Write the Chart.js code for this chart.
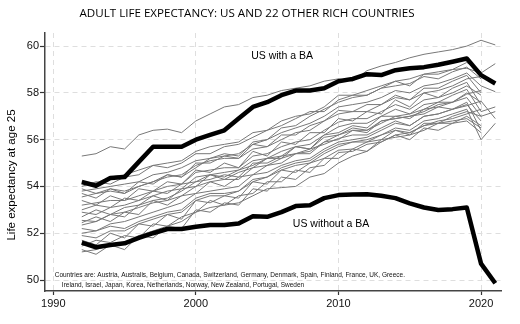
<!DOCTYPE html>
<html>
<head>
<meta charset="utf-8">
<script src="https://cdn.jsdelivr.net/npm/chart.js@4.4.1/dist/chart.umd.min.js"></script>
<style>
	body { margin: 0; background: #fff; }
</style>
</head>
<body>
<canvas id="canvas_le" width="520" height="324"></canvas>
<script>
		var chartTitle = 'ADULT LIFE EXPECTANCY: US AND 22 OTHER RICH COUNTRIES';
		var yAxisTitle = 'Life expectancy at age 25';
		var noteLines = [
			'Countries are: Austria, Australis, Belgium, Canada, Switzerland, Germany, Denmark, Spain, Finland, France, UK, Greece.',
			'Ireland, Israel, Japan, Korea, Netherlands, Norway, New Zealand, Portugal, Sweden'
		];
		var xTicks = [1990, 2000, 2010, 2020];
		var yTicks = [50, 52, 54, 56, 58, 60];

		var years = [1992,1993,1994,1995,1996,1997,1998,1999,2000,2001,2002,2003,2004,2005,2006,
					 2007,2008,2009,2010,2011,2012,2013,2014,2015,2016,2017,2018,2019,2020,2021];

		var usWithBA = [54.19,54.03,54.36,54.4,55.05,55.7,55.7,55.7,56.0,56.2,56.4,56.9,57.4,57.6,57.9,
						58.1,58.1,58.2,58.5,58.6,58.8,58.76,58.97,59.05,59.1,59.2,59.33,59.47,58.76,58.4];
		var usWithoutBA = [51.6,51.4,51.5,51.57,51.8,52.0,52.18,52.18,52.28,52.35,52.35,52.42,52.73,52.7,52.9,
						   53.16,53.2,53.5,53.63,53.66,53.67,53.6,53.5,53.28,53.1,52.99,53.03,53.1,50.7,49.86];

		// 22 other countries (unlabelled in the picture)
		var otherCountries = [
			[55.3,55.4,55.7,55.6,56.2,56.4,56.45,56.3,56.8,57.1,57.4,57.5,57.8,57.9,58.1,58.2,58.3,58.5,58.6,58.5,58.95,59.15,59.3,59.5,59.65,59.75,59.85,60.0,60.25,60.05],
			[54.2,54.15,54.4,54.5,54.7,54.9,55.0,55.1,55.5,55.7,55.8,55.9,56.3,56.4,56.8,57.0,57.1,57.4,57.9,57.9,58.1,58.3,58.5,58.6,58.8,58.9,59.0,59.05,58.85,59.25],
			[54.0,54.2,54.1,54.4,54.5,54.9,54.8,55.0,55.4,55.4,55.7,55.8,56.1,56.4,56.6,56.9,57.2,57.2,57.7,57.9,57.9,58.2,58.5,58.3,58.8,58.8,59.0,59.3,58.9,null],
			[53.9,53.7,53.9,53.8,54.0,54.2,54.5,54.4,54.8,55.2,55.4,55.3,55.9,56.0,56.5,56.6,57.0,57.3,57.6,57.8,57.9,58.2,58.3,58.4,58.7,58.6,58.9,59.1,58.6,null],
			[53.8,53.9,54.0,54.1,54.2,54.5,54.6,54.8,55.1,55.2,55.3,55.4,55.8,56.0,56.3,56.5,56.7,57.0,57.4,57.5,57.6,57.8,58.1,58.0,58.3,58.4,58.6,58.85,58.3,58.05],
			[53.7,53.5,53.9,53.7,54.2,54.1,54.5,54.4,55.0,55.0,55.3,55.2,55.8,55.7,56.2,56.2,56.6,56.8,57.25,57.2,57.5,57.5,57.9,57.7,58.2,58.2,58.5,58.75,58.0,null],
			[53.55,53.7,53.8,53.7,54.0,54.2,54.4,54.5,54.9,55.1,55.2,55.2,55.6,55.7,56.0,56.3,56.4,56.8,57.1,57.2,57.2,57.5,57.8,57.7,58.0,58.1,58.3,58.6,58.7,null],
			[53.4,53.2,53.6,53.4,53.9,53.8,54.2,54.1,54.7,54.6,55.0,54.8,55.5,55.3,55.9,55.8,56.3,56.3,56.9,56.8,57.2,57.1,57.7,57.4,58.0,57.8,58.2,58.45,57.5,null],
			[53.2,53.3,53.4,53.4,53.6,53.8,54.0,54.1,54.6,54.7,54.8,54.8,55.3,55.4,55.7,55.9,56.0,56.4,56.75,56.9,56.9,57.2,57.5,57.3,57.7,57.8,58.0,58.3,57.9,null],
			[52.9,52.8,53.1,53.2,53.4,53.6,53.8,53.9,54.4,54.5,54.6,54.7,55.1,55.2,55.5,55.7,55.8,56.2,56.55,56.7,56.7,57.0,57.3,57.1,57.5,57.6,57.9,58.15,57.2,57.4],
			[52.7,53.0,52.8,53.1,53.2,53.6,53.4,53.9,54.0,54.5,54.3,54.6,54.8,55.2,55.2,55.7,55.6,56.2,56.3,56.6,56.5,57.0,57.0,57.1,57.3,57.6,57.6,57.95,58.1,null],
			[52.55,52.5,52.8,52.9,53.1,53.3,53.4,53.6,54.0,54.2,54.3,54.3,54.8,54.9,55.2,55.4,55.5,55.9,56.2,56.4,56.4,56.7,57.0,56.9,57.3,57.4,57.6,57.8,57.0,57.2],
			[52.35,52.5,52.8,52.7,53.2,53.4,53.5,53.8,54.2,54.3,54.5,54.4,55.0,55.0,55.3,55.4,55.6,55.8,56.05,56.2,56.2,56.5,56.8,56.6,57.0,57.1,57.3,57.6,56.4,null],
			[52.2,52.1,52.4,52.5,52.7,52.9,53.1,53.3,53.7,53.8,53.9,54.0,54.5,54.6,54.9,55.1,55.2,55.6,55.9,56.0,56.1,56.4,56.7,56.6,57.0,57.1,57.3,57.45,57.65,56.9],
			[52.0,52.1,52.3,52.2,52.5,52.7,52.9,53.0,53.5,53.7,53.7,53.8,54.3,54.4,54.7,54.9,55.0,55.4,55.7,55.9,55.9,56.2,56.5,56.4,56.8,56.9,57.1,57.3,56.0,56.7],
			[51.7,51.5,52.0,51.8,52.4,52.3,52.8,52.6,53.4,53.3,53.6,53.5,54.2,54.1,54.7,54.6,55.0,55.2,55.55,55.6,55.9,56.0,56.4,56.2,56.7,56.7,57.0,57.2,57.0,null],
			[51.45,51.7,51.6,51.9,51.8,52.4,52.3,52.7,52.9,53.4,53.2,53.6,53.7,54.2,54.2,54.7,54.6,55.2,55.2,55.6,55.5,56.0,56.1,56.2,56.4,56.7,56.7,57.0,56.6,null],
			[51.2,51.3,51.5,51.6,51.9,52.1,52.3,52.5,52.9,53.1,53.2,53.3,53.6,53.9,53.95,54.0,54.4,54.55,55.0,55.3,55.5,55.9,56.2,56.3,56.6,56.8,56.9,57.1,57.3,null],
			[51.3,51.1,51.5,51.3,51.9,51.8,52.3,52.2,53.0,52.9,53.3,53.2,53.9,53.8,54.4,54.3,54.8,54.9,55.45,55.5,55.8,55.9,56.2,56.0,56.5,56.4,56.7,56.8,56.3,null],
			[53.0,53.2,53.1,53.5,53.4,53.8,53.7,54.1,54.2,54.5,54.4,54.7,54.9,55.2,55.3,55.7,55.6,56.1,56.2,56.5,56.4,56.8,56.9,57.0,57.1,57.4,57.3,57.5,56.8,null],
			[52.45,52.7,52.5,52.9,52.8,53.4,53.2,53.6,53.7,54.2,54.0,54.4,54.5,54.9,55.0,55.4,55.4,55.9,56.0,56.4,56.3,56.8,56.9,57.0,57.2,57.5,57.6,58.0,57.6,null],
			[51.9,51.8,52.1,52.1,52.4,52.6,52.8,52.9,53.4,53.6,53.6,53.8,54.2,54.4,54.8,55.0,55.1,55.5,55.8,55.9,56.0,56.2,56.4,56.3,56.6,56.7,56.8,56.9,56.5,null]
		];

		function toPoints(vals) {
			var pts = [];
			for (var i in years) {
				pts.push({x: years[i], y: vals[i]});
			}
			return pts;
		}

		var datasetsLE = [
			{label: 'US with a BA', data: toPoints(usWithBA), borderColor: '#000', borderWidth: 4.5, order: 0},
			{label: 'US without a BA', data: toPoints(usWithoutBA), borderColor: '#000', borderWidth: 4.5, order: 0}
		];
		for (var k in otherCountries) {
			datasetsLE.push({label: 'other ' + k, data: toPoints(otherCountries[k]), borderColor: '#787878', borderWidth: 1, order: 1});
		}

		// title, axis title, line labels and the country note
		var textPlugin = {
			id: 'chartText',
			afterDraw: function(chart) {
				var c = chart.ctx;
				var sx = chart.scales.x, sy = chart.scales.y;
				c.save();
				c.fillStyle = '#000';
				c.textBaseline = 'middle';

				c.textAlign = 'center';
				c.font = '11.6px "Open Sans"';
				c.fillText(chartTitle, 247, 14);

				c.font = '10.5px "Liberation Sans"';
				c.fillText('US with a BA', sx.getPixelForValue(2006.05), sy.getPixelForValue(59.57));
				c.textAlign = 'left';
				c.fillText('US without a BA', sx.getPixelForValue(2006.8), sy.getPixelForValue(52.39));

				c.font = '6.5px "Liberation Sans"';
				c.fillStyle = '#111';
				c.fillText(noteLines[0], sx.getPixelForValue(1990.1), sy.getPixelForValue(50.21));
				c.fillText(noteLines[1], sx.getPixelForValue(1990.6), sy.getPixelForValue(49.79));

				c.translate(12, 175);
				c.rotate(-Math.PI / 2);
				c.textAlign = 'center';
				c.fillStyle = '#000';
				c.font = '11.5px "Liberation Sans"';
				c.fillText(yAxisTitle, 0, 0);
				c.restore();
			}
		};

		var configLE = {
			type: 'line',
			data: { datasets: datasetsLE },
			options: {
				responsive: false,
				animation: false,
				events: [],
				layout: { padding: { top: 33, right: 19, bottom: 0, left: 0 } },
				elements: {
					point: { radius: 0 },
					line: { tension: 0, borderJoinStyle: 'round', borderCapStyle: 'butt' }
				},
				plugins: {
					legend: { display: false },
					title: { display: false },
					tooltip: { enabled: false }
				},
				scales: {
					x: {
						type: 'linear',
						min: 1989.42,
						max: 2021.4,
						afterFit: function(s) { s.height = 33; },
						afterBuildTicks: function(s) { s.ticks = xTicks.map(function(v) { return {value: v}; }); },
						grid: { color: '#dedede', lineWidth: 1, tickLength: 4, tickColor: '#333', tickWidth: 1.2 },
						border: { display: true, color: '#444', width: 1.5, dash: [5, 4] },
						ticks: {
							padding: 2, color: '#111', maxRotation: 0,
							font: { family: 'Liberation Sans', size: 11 },
							callback: function(v) { return String(v); }
						}
					},
					y: {
						type: 'linear',
						min: 49.53,
						max: 60.56,
						afterFit: function(s) { s.width = 45; },
						afterBuildTicks: function(s) { s.ticks = yTicks.map(function(v) { return {value: v}; }); },
						grid: { color: '#dedede', lineWidth: 1, tickLength: 5, tickColor: '#333', tickWidth: 1.2 },
						border: { display: true, color: '#444', width: 1.5, dash: [5, 4] },
						ticks: { padding: 1, color: '#111', font: { family: 'Liberation Sans', size: 11 } }
					}
				}
			},
			plugins: [textPlugin]
		};

		var ctx_le = document.getElementById('canvas_le').getContext('2d');
		new Chart(ctx_le, configLE);
</script>
</body>
</html>
